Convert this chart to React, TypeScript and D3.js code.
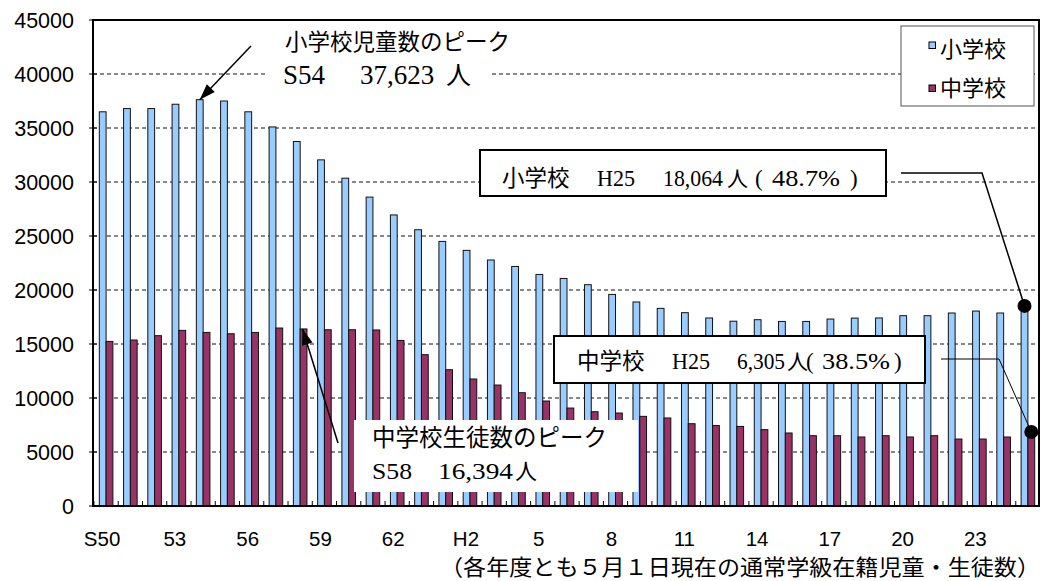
import React from 'react';
import * as d3 from 'd3';

// 年度 (S50 - H25)
const years = [
  'S50', 'S51', 'S52', 'S53', 'S54', 'S55', 'S56', 'S57', 'S58', 'S59', 'S60', 'S61', 'S62', 'S63',
  'H1', 'H2', 'H3', 'H4', 'H5', 'H6', 'H7', 'H8', 'H9', 'H10', 'H11', 'H12', 'H13', 'H14', 'H15',
  'H16', 'H17', 'H18', 'H19', 'H20', 'H21', 'H22', 'H23', 'H24', 'H25',
];

// 小学校 児童数
const elementary = [
  36500, 36800, 36800, 37200, 37623, 37500, 36500, 35100, 33750, 32050, 30350, 28600, 26950, 25580,
  24500, 23670, 22780, 22180, 21440, 21070, 20490, 19590, 18890, 18300, 17900, 17410, 17110, 17250, 17090,
  17090, 17310, 17400, 17410, 17620, 17620, 17870, 18050, 17870, 18064,
];

// 中学校 生徒数
const junior = [
  15240, 15370, 15770, 16260, 16070, 15950, 16070, 16480, 16394, 16320, 16320, 16300, 15330, 14010,
  12620, 11760, 11200, 10490, 9720, 9070, 8730, 8610, 8300, 8150, 7620, 7450, 7370, 7070, 6760,
  6510, 6510, 6390, 6510, 6390, 6510, 6200, 6200, 6390, 6305,
];

const tickYears = ['S50', 'S53', 'S56', 'S59', 'S62', 'H2', 'H5', 'H8', 'H11', 'H14', 'H17', 'H20', 'H23'];
const tickLabels = ['S50', '53', '56', '59', '62', 'H2', '5', '8', '11', '14', '17', '20', '23'];
const yTicks = [0, 5000, 10000, 15000, 20000, 25000, 30000, 35000, 40000, 45000];

const series = ['小学校', '中学校'];
const colors = ['#99CCFF', '#993366'];

const SANS = "'Liberation Sans', Arial, sans-serif";
const CJK = "'Noto Sans CJK JP', sans-serif";
const SERIF = "'Liberation Serif', 'Noto Sans CJK JP', serif";

// arrow head polygon pointing at (x2, y2)
function arrowHead(x1: number, y1: number, x2: number, y2: number, len: number, w: number) {
  const a = Math.atan2(y2 - y1, x2 - x1);
  const bx = x2 - len * Math.cos(a);
  const by = y2 - len * Math.sin(a);
  const px = (w / 2) * Math.sin(a);
  const py = (w / 2) * Math.cos(a);
  return `${x2},${y2} ${bx + px},${by - py} ${bx - px},${by + py}`;
}

const App: React.FC = () => {
  const left = 93, right = 1039, top = 20, bottom = 506;

  const x = d3.scaleBand<string>()
    .domain(years)
    .range([left, 1041])
    .paddingInner(0.44)
    .paddingOuter(0.26);

  const xs = d3.scaleBand<string>()
    .domain(series)
    .range([0, x.bandwidth()]);

  const y = d3.scaleLinear().domain([0, 45000]).range([bottom, top]);

  const gap = x.step() * 0.44;

  // peak / latest anchors
  const iS54 = years.indexOf('S54');
  const iS58 = years.indexOf('S58');
  const last = years.length - 1;
  const tip1x = (x('S54') as number) + (xs('小学校') as number) + xs.bandwidth() / 2;
  const tip1y = y(elementary[iS54]);
  const tip2x = (x('S58') as number) + (xs('中学校') as number) + xs.bandwidth() / 2 - 1;
  const tip2y = y(junior[iS58]);
  const dot1x = (x(years[last]) as number) + (xs('小学校') as number) + xs.bandwidth() / 2;
  const dot1y = y(elementary[last]) - 5;
  const dot2x = (x(years[last]) as number) + (xs('中学校') as number) + xs.bandwidth() / 2;
  const dot2y = y(junior[last]) - 6;

  return (
    <svg width={1049} height={581} style={{ position: 'absolute', left: 0, top: 0, background: '#fff' }}>
      {/* grid */}
      {yTicks.filter(t => t > 0 && t < 45000).map(t => (
        <line key={t} x1={left} x2={right} y1={y(t)} y2={y(t)}
          stroke="#111" strokeWidth={1} strokeDasharray="4,3" />
      ))}

      {/* bars */}
      {years.map((yr, i) => (
        <g key={yr} transform={`translate(${x(yr)},0)`}>
          {[elementary[i], junior[i]].map((v, j) => (
            <rect key={j}
              x={xs(series[j]) as number}
              y={y(v)}
              width={xs.bandwidth()}
              height={bottom - y(v)}
              fill={colors[j]}
              stroke="#111"
              strokeWidth={1} />
          ))}
        </g>
      ))}

      {/* x tick marks */}
      {years.map(yr => (
        <line key={'t' + yr} x1={(x(yr) as number) - gap / 2} x2={(x(yr) as number) - gap / 2}
          y1={bottom} y2={bottom - 5} stroke="#000" strokeWidth={1} />
      ))}

      {/* y ticks + labels */}
      {yTicks.map(t => (
        <g key={'y' + t}>
          <line x1={89} x2={97} y1={y(t)} y2={y(t)} stroke="#000" strokeWidth={1} />
          <text x={74} y={y(t) + 7.5} textAnchor="end" fontFamily={SANS} fontSize={21.5}>{t}</text>
        </g>
      ))}

      {/* x labels */}
      {tickYears.map((yr, i) => (
        <text key={yr} x={(x(yr) as number) + x.bandwidth() / 2 - 4} y={546}
          textAnchor="middle" fontFamily={SANS} fontSize={20.5}>{tickLabels[i]}</text>
      ))}

      {/* plot frame */}
      <rect x={left} y={top} width={right - left} height={bottom - top} fill="none" stroke="#000" strokeWidth={2} />

      {/* 小学校 peak */}
      <rect x={265} y={26} width={226} height={70} fill="#fff" />
      <text x={285} y={50} fontFamily={CJK} fontSize={22.5}>小学校児童数のピーク</text>
      <text x={283} y={84} fontFamily={SERIF} fontSize={27}>S54</text>
      <text x={360} y={84} fontFamily={SERIF} fontSize={27}>37,623</text>
      <text x={446} y={84} fontFamily={CJK} fontSize={25}>人</text>
      <line x1={251} y1={46} x2={tip1x} y2={tip1y} stroke="#000" strokeWidth={1.5} />
      <polygon points={arrowHead(251, 46, tip1x, tip1y, 16, 11)} fill="#000" />

      {/* 中学校 peak */}
      <rect x={354} y={420} width={284} height={72} fill="#fff" />
      <text x={372} y={446} fontFamily={CJK} fontSize={23.5}>中学校生徒数のピーク</text>
      <text x={372} y={479} fontFamily={SERIF} fontSize={23} textLength={40} lengthAdjust="spacingAndGlyphs">S58</text>
      <text x={438} y={479} fontFamily={SERIF} fontSize={23} textLength={75} lengthAdjust="spacingAndGlyphs">16,394</text>
      <text x={515} y={479} fontFamily={CJK} fontSize={22}>人</text>
      <line x1={338} y1={443} x2={tip2x} y2={tip2y} stroke="#000" strokeWidth={1.5} />
      <polygon points={arrowHead(338, 443, tip2x, tip2y, 16, 11)} fill="#000" />

      {/* 小学校 H25 */}
      <path d={`M901,173 H982 L${dot1x},${dot1y}`} fill="none" stroke="#000" strokeWidth={1.5} />
      <circle cx={dot1x} cy={dot1y} r={7} fill="#000" />
      <rect x={480} y={150} width={406} height={46} fill="#fff" stroke="#000" strokeWidth={2} />
      <text x={502} y={186} fontFamily={CJK} fontSize={22.5}>小学校</text>
      <text x={597} y={186} fontFamily={SERIF} fontSize={23} textLength={38} lengthAdjust="spacingAndGlyphs">H25</text>
      <text x={663} y={186} fontFamily={SERIF} fontSize={23} textLength={60} lengthAdjust="spacingAndGlyphs">18,064</text>
      <text x={727} y={186} fontFamily={CJK} fontSize={21}>人</text>
      <text x={755} y={186} fontFamily={SERIF} fontSize={23}>(</text>
      <text x={772} y={186} fontFamily={SERIF} fontSize={23} textLength={68} lengthAdjust="spacingAndGlyphs">48.7%</text>
      <text x={850} y={186} fontFamily={SERIF} fontSize={23}>)</text>

      {/* 中学校 H25 */}
      <path d={`M941,359 H999 L${dot2x},${dot2y}`} fill="none" stroke="#000" strokeWidth={1} />
      <circle cx={dot2x} cy={dot2y} r={7} fill="#000" />
      <rect x={554} y={336} width={371} height={47} fill="#fff" stroke="#000" strokeWidth={2} />
      <text x={577} y={369} fontFamily={CJK} fontSize={22.5}>中学校</text>
      <text x={672} y={369} fontFamily={SERIF} fontSize={23} textLength={38} lengthAdjust="spacingAndGlyphs">H25</text>
      <text x={737} y={369} fontFamily={SERIF} fontSize={23} textLength={48} lengthAdjust="spacingAndGlyphs">6,305</text>
      <text x={787} y={369} fontFamily={CJK} fontSize={21}>人</text>
      <text x={806} y={369} fontFamily={SERIF} fontSize={23}>(</text>
      <text x={822} y={369} fontFamily={SERIF} fontSize={23} textLength={68} lengthAdjust="spacingAndGlyphs">38.5%</text>
      <text x={894} y={369} fontFamily={SERIF} fontSize={23}>)</text>

      {/* legend */}
      <rect x={901} y={26} width={133} height={80} fill="#fff" stroke="#555" strokeWidth={1} />
      {series.map((s, i) => (
        <g key={s}>
          <rect x={929} y={42 + i * 43} width={6.5} height={6.5} fill={colors[i]} stroke="#000" strokeWidth={1} />
          <text x={940} y={57 + i * 39} fontFamily={CJK} fontSize={22}>{s}</text>
        </g>
      ))}

      {/* footnote */}
      <text x={440} y={575} fontFamily={CJK} fontSize={22} textLength={600} lengthAdjust="spacingAndGlyphs">
        （各年度とも５月１日現在の通常学級在籍児童・生徒数）
      </text>
    </svg>
  );
};

export default App;
